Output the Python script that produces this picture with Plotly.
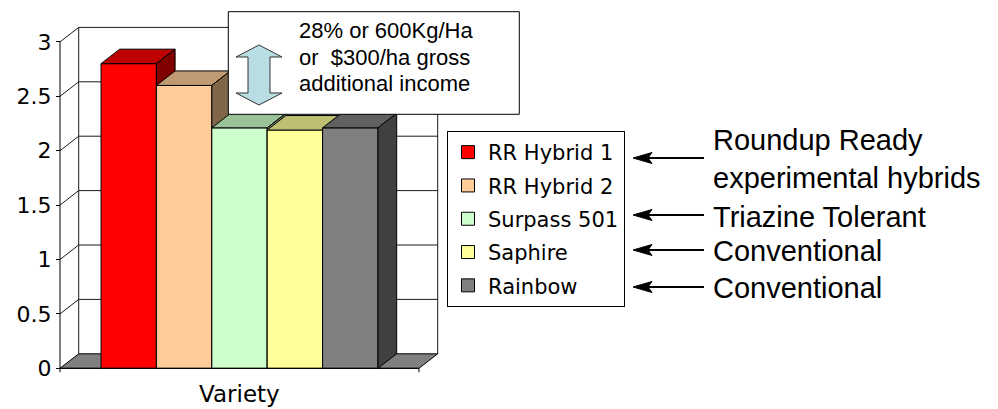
import plotly.graph_objects as go

# ---------------- data ----------------
varieties = ["RR Hybrid 1", "RR Hybrid 2", "Surpass 501", "Saphire", "Rainbow"]
yields = [2.8, 2.6, 2.21, 2.19, 2.21]
front_colors = ["#FF0000", "#FFCC99", "#CCFFCC", "#FFFF99", "#808080"]
top_colors = ["#BF0000", "#C09A73", "#99C299", "#BFBF73", "#606060"]
side_colors = ["#800000", "#806648", "#668066", "#80804C", "#404040"]
y_tickvals = [0, 0.5, 1, 1.5, 2, 2.5, 3]
y_ticktext = ["0", "0.5", "1", "1.5", "2", "2.5", "3"]
x_title = "Variety"
box_lines = ["28% or 600Kg/Ha", "or\u00a0 $300/ha gross", "additional income"]
side_notes = ["Roundup Ready<br>experimental hybrids", "Triazine Tolerant",
              "Conventional", "Conventional"]

# ---------------- geometry (page pixels) ----------------
W, H = 998, 409
PXX = 55.4      # pixels per bar width
PXY = 108.8     # pixels per y unit
X0 = 60.0       # front-left corner of the floor
Y0 = 368.3      # baseline
DXP, DYP = 18.7, 14.5   # depth offset in pixels
GAPP = 41.0     # floor margin left/right of the bars

n = len(varieties)
gap = GAPP / PXX
xmin = -0.5 - gap
xfront = n - 0.5 + gap
dx = DXP / PXX
dy = DYP / PXY
ytop = max(y_tickvals)
pad_x, pad_y = 0.05, 0.05
xr = [xmin - pad_x, xfront + dx + pad_x]
yr = [-pad_y, ytop + dy + pad_y]

left_px = X0 - pad_x * PXX
right_px = X0 + (xr[1] - xmin) * PXX
bot_px = Y0 + pad_y * PXY
top_px = Y0 - yr[1] * PXY


def pxx(x):
    return x / W


def pxy(y):
    return 1 - y / H


fig = go.Figure()


def poly(xs, ys, fill, lw=1):
    fig.add_trace(go.Scatter(x=xs + [xs[0]], y=ys + [ys[0]], mode="lines", fill="toself",
                             fillcolor=fill, line=dict(color="black", width=lw),
                             hoverinfo="skip", showlegend=False))


def lines(xs, ys, color="black", width=1):
    fig.add_trace(go.Scatter(x=xs, y=ys, mode="lines", line=dict(color=color, width=width),
                             hoverinfo="skip", showlegend=False))


# walls + gridlines
gx, gy = [], []
for v in y_tickvals[1:]:
    gx += [xmin, xmin + dx, xfront + dx, None]
    gy += [v, v + dy, v + dy, None]
gx += [xmin + dx, xmin + dx, None, xfront + dx, xfront + dx]
gy += [dy, ytop + dy, None, dy, ytop + dy]
lines(gx, gy, color="#1a1a1a")

# floor
poly([xmin, xfront, xfront + dx, xmin + dx], [0, 0, dy, dy], "#808080")

# bars (front, top, side faces)
for i, v in enumerate(yields):
    l, r = i - 0.5, i + 0.5
    poly([l, r, r, l], [0, 0, v, v], front_colors[i])
    poly([l, r, r + dx, l + dx], [v, v, v + dy, v + dy], top_colors[i])
    poly([r, r + dx, r + dx, r], [0, dy, v + dy, v], side_colors[i])

# front axes
tick = 4.0 / PXY
lines([xmin, xmin, None, xmin, xfront, None, xmin, xmin, None, xfront, xfront],
      [ytop, 0, None, 0, 0, None, 0, -tick, None, 0, -tick])

# legend entries
for i, name in enumerate(varieties):
    fig.add_trace(go.Scatter(x=[None], y=[None], mode="markers", name=name,
                             legendgroup=str(i),
                             marker=dict(symbol="square", size=13, color=front_colors[i],
                                         line=dict(color="black", width=1))))

annotations = []
annotations.append(dict(x=(xmin + xfront) / 2, xref="x", y=pxy(394), yref="paper",
                        text=x_title, showarrow=False, yanchor="middle",
                        font=dict(family="DejaVu Sans", size=23, color="black")))
for t, yy in zip(box_lines, [31, 57, 83]):
    annotations.append(dict(x=pxx(297), y=pxy(yy), xref="paper", yref="paper",
                            text=t, showarrow=False, xanchor="left", yanchor="middle",
                            align="left",
                            font=dict(family="Liberation Sans", size=22, color="black")))
note_y = [159, 217, 251, 288]
for t, yy in zip(side_notes, note_y):
    annotations.append(dict(x=pxx(711), y=pxy(yy), xref="paper", yref="paper",
                            text=t, showarrow=False, xanchor="left", yanchor="middle",
                            align="left",
                            font=dict(family="Liberation Sans", size=29, color="black")))

shapes = []
# pointer arrows
arrow_y = [158, 215, 250, 287]
for yy in arrow_y:
    shapes.append(dict(type="line", xref="paper", yref="paper", x0=pxx(647), x1=pxx(704),
                       y0=pxy(yy), y1=pxy(yy), line=dict(color="black", width=2)))
    head = [(633, yy), (652, yy - 5.5), (648, yy), (652, yy + 5.5)]
    shapes.append(dict(type="path", xref="paper", yref="paper",
                       path="M " + " L ".join("%.5f,%.5f" % (pxx(a), pxy(b)) for a, b in head) + " Z",
                       fillcolor="black", line=dict(color="black", width=1)))

# note box + double arrow
shapes.append(dict(type="rect", xref="paper", yref="paper", x0=pxx(228.3), y0=pxy(114.3),
                   x1=pxx(519.3), y1=pxy(11.7), fillcolor="white",
                   line=dict(color="black", width=1), layer="above"))
cx = 259
pts = [(cx, 45), (cx + 23, 57), (cx + 11, 57), (cx + 11, 93), (cx + 23, 93), (cx, 105),
       (cx - 23, 93), (cx - 11, 93), (cx - 11, 57), (cx - 23, 57)]
shapes.append(dict(type="path", xref="paper", yref="paper",
                   path="M " + " L ".join("%.5f,%.5f" % (pxx(a), pxy(b)) for a, b in pts) + " Z",
                   fillcolor="#B8DDE3", line=dict(color="#333333", width=1), layer="above"))

fig.update_layout(
    width=W, height=H,
    margin=dict(l=0, r=0, t=0, b=0, pad=0, autoexpand=False),
    paper_bgcolor="white", plot_bgcolor="white",
    showlegend=True,
    legend=dict(x=pxx(447), y=pxy(131), xanchor="left", yanchor="top",
                bordercolor="black", borderwidth=1, bgcolor="white",
                font=dict(family="DejaVu Sans", size=21, color="black"),
                tracegroupgap=3, itemclick=False, itemdoubleclick=False),
    xaxis=dict(domain=[pxx(left_px), pxx(right_px)], range=xr, showgrid=False,
               zeroline=False, showline=False, showticklabels=False, ticks="",
               fixedrange=True, automargin=False),
    yaxis=dict(domain=[pxy(bot_px), pxy(top_px)], range=yr, anchor="free",
               position=pxx(X0), showgrid=False, zeroline=False, showline=False,
               tickvals=y_tickvals, ticktext=y_ticktext, ticks="outside", ticklen=4,
               tickcolor="black", tickfont=dict(family="DejaVu Sans", size=22,
                                                color="black"),
               fixedrange=True, automargin=False),
    annotations=annotations,
    shapes=shapes,
)

# remove the default 8px page margin so the figure fills the window exactly
fig.write_html("out.html", config={"displayModeBar": False},
               post_script="document.body.style.margin='0px';")
